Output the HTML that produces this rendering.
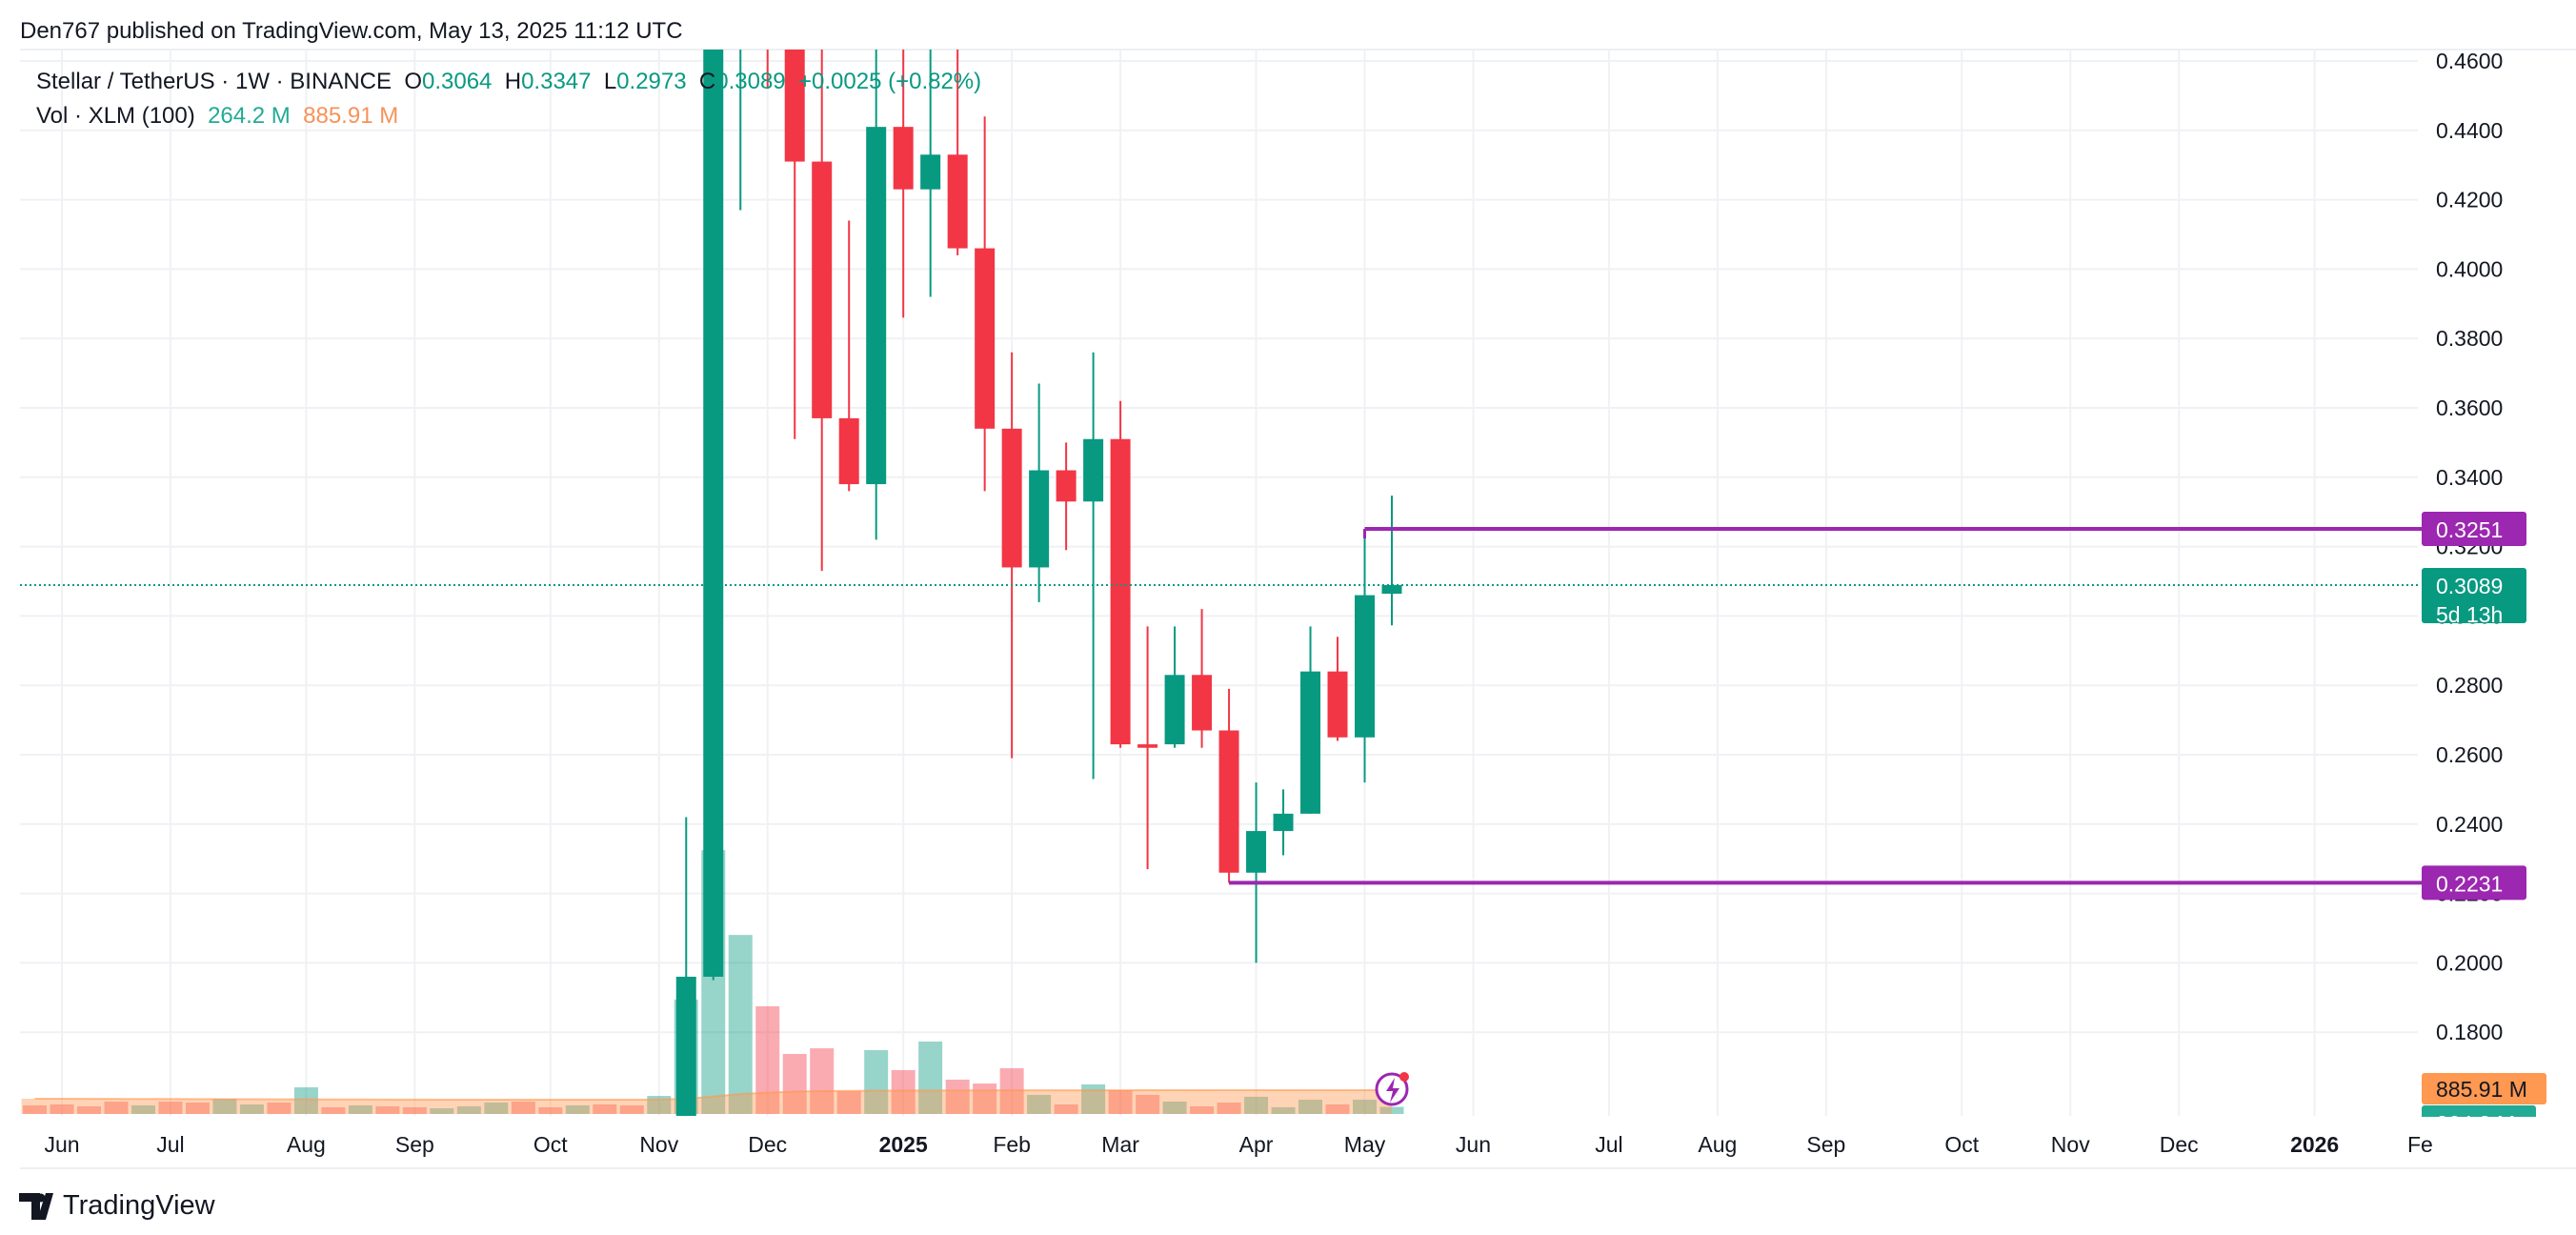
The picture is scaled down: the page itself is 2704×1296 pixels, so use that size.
<!DOCTYPE html>
<html><head><meta charset="utf-8">
<style>
html,body{margin:0;padding:0;background:#fff;width:2704px;height:1296px;overflow:hidden;}
svg{display:block;font-family:"Liberation Sans",sans-serif;}
text{white-space:pre;}
</style></head>
<body>
<svg id="chart" width="2704" height="1296" viewBox="0 0 2704 1296" xmlns="http://www.w3.org/2000/svg">
<defs>
<clipPath id="pane"><rect x="21" y="52" width="2517" height="1119"/></clipPath>
</defs>
<rect x="0" y="0" width="2704" height="1296" fill="#ffffff"/>
<text x="21" y="40" font-size="24" fill="#131722">Den767 published on TradingView.com, May 13, 2025 11:12 UTC</text>
<line x1="21" y1="52" x2="2704" y2="52" stroke="#eceff3" stroke-width="2"/>
<g id="grid"></g>
<g id="vol" clip-path="url(#pane)"></g>
<g id="candles" clip-path="url(#pane)"></g>
<g id="overlay"></g>
<g id="yaxis"></g>
<g id="xaxis"></g>
<g font-size="24">
<text x="38" y="93" xml:space="preserve"><tspan fill="#131722">Stellar / TetherUS · 1W · BINANCE  O</tspan><tspan fill="#089981">0.3064</tspan><tspan fill="#131722">  H</tspan><tspan fill="#089981">0.3347</tspan><tspan fill="#131722">  L</tspan><tspan fill="#089981">0.2973</tspan><tspan fill="#131722">  C</tspan><tspan fill="#089981">0.3089  +0.0025 (+0.82%)</tspan></text>
<text x="38" y="129" xml:space="preserve"><tspan fill="#131722">Vol · XLM (100)  </tspan><tspan fill="#22ab94">264.2 M  </tspan><tspan fill="#f7925a">885.91 M</tspan></text>
</g>
<line x1="21" y1="1226" x2="2704" y2="1226" stroke="#eceff3" stroke-width="2"/>
<g>
<path d="M20 1252h22v28h-9v-19h-13z M48 1252h8l-8 28h-9z" fill="#131722"/>
<circle cx="43" cy="1257" r="4.5" fill="#131722"/>
<text x="66" y="1274" font-size="29" fill="#131722">TradingView</text>
</g>
</svg>
<script>
// ---- data ----
const startDate = "2024-05-27"; // week of index 0
const opens  = [0.110,0.105,0.100,0.090,0.085,0.093,0.088,0.087,0.096,0.100,0.090,0.098,0.092,0.097,0.095,0.093,0.094,0.096,0.099,0.098,0.095,0.098,0.097,0.093,0.085,0.196,0.490,0.560,0.470,0.431,0.357,0.338,0.441,0.423,0.433,0.406,0.354,0.314,0.342,0.333,0.351,0.263,0.263,0.283,0.267,0.226,0.238,0.243,0.284,0.265,0.3064];
const highs  = [0.115,0.110,0.105,0.095,0.098,0.096,0.100,0.100,0.100,0.104,0.101,0.100,0.099,0.099,0.097,0.096,0.098,0.101,0.101,0.100,0.099,0.100,0.099,0.100,0.242,0.520,0.600,0.600,0.500,0.470,0.414,0.470,0.470,0.470,0.470,0.444,0.376,0.367,0.350,0.376,0.362,0.297,0.297,0.302,0.279,0.252,0.250,0.297,0.294,0.3251,0.3347];
const lows   = [0.100,0.098,0.088,0.083,0.083,0.083,0.084,0.085,0.083,0.088,0.087,0.088,0.089,0.090,0.090,0.090,0.091,0.093,0.093,0.092,0.092,0.093,0.091,0.090,0.080,0.195,0.417,0.452,0.351,0.313,0.336,0.322,0.386,0.392,0.404,0.336,0.259,0.304,0.319,0.253,0.262,0.227,0.262,0.262,0.2231,0.200,0.231,0.243,0.264,0.252,0.2973];
const closes = [0.105,0.100,0.090,0.085,0.093,0.088,0.087,0.096,0.100,0.090,0.098,0.092,0.097,0.095,0.093,0.094,0.096,0.099,0.098,0.095,0.098,0.097,0.093,0.095,0.196,0.500,0.550,0.480,0.431,0.357,0.338,0.441,0.423,0.433,0.406,0.354,0.314,0.342,0.333,0.351,0.263,0.262,0.283,0.267,0.226,0.238,0.243,0.284,0.265,0.306,0.3089];
const volumes = [320,355,285,460,320,460,425,565,355,425,990,250,320,285,250,212,285,425,460,250,320,355,320,670,4250,9800,6650,4000,2230,2440,850,2370,1630,2690,1275,1130,1700,710,355,1100,885,710,460,285,425,640,250,530,355,530,264];
const volMA = [566,566,563,560,558,556,553,550,548,545,543,540,538,536,534,532,530,530,530,530,530,530,530,535,560,650,740,790,830,850,860,865,870,872,875,877,880,880,881,882,882,883,883,884,884,884,885,885,885,886,885.91];
const priceTicks = [0.46,0.44,0.42,0.40,0.38,0.36,0.34,0.32,0.30,0.28,0.26,0.24,0.22,0.20,0.18];
const monthLabels = ["Jun","Jul","Aug","Sep","Oct","Nov","Dec","2025","Feb","Mar","Apr","May","Jun","Jul","Aug","Sep","Oct","Nov","Dec","2026","Fe"];
const monthDates = ["2024-06-03","2024-07-01","2024-08-05","2024-09-02","2024-10-07","2024-11-04","2024-12-02","2025-01-06","2025-02-03","2025-03-03","2025-04-07","2025-05-05","2025-06-02","2025-07-07","2025-08-04","2025-09-01","2025-10-06","2025-11-03","2025-12-01","2026-01-05","2026-02-02"];
const levelHigh = 0.3251, levelHighIdx = 49;
const levelLow = 0.2231, levelLowIdx = 44;
const lastPrice = 0.3089;

// ---- scales ----
const NS = "http://www.w3.org/2000/svg";
const X0 = 36.5, STEP = 28.49;
function xIdx(i){ return X0 + i*STEP; }
function xDate(d){ const t=(new Date(d+"T00:00:00Z")-new Date(startDate+"T00:00:00Z"))/(7*864e5); return xIdx(t); }
function yP(p){ return 64 + (0.46-p)*3640; }
const VBASE = 1169, VPX = 35.4;
function yV(v){ return VBASE - v/VPX; }
function mk(tag, attrs, parent){ const e=document.createElementNS(NS,tag); for(const k in attrs) e.setAttribute(k,attrs[k]); parent.appendChild(e); return e; }
const GREEN="#089981", RED="#f23645";

// grid
const grid=document.getElementById("grid");
priceTicks.forEach(p=>{
  const l=mk("line",{x1:21,x2:2538,y1:yP(p),y2:yP(p),stroke:"#f0f1f4","stroke-width":2},grid);
  
  
});
monthDates.forEach(d=>{
  const x=xDate(d); if(x>2538) return;
  const l=mk("line",{x1:x,x2:x,y1:52,y2:1171,stroke:"#f0f1f4","stroke-width":2},grid);
  
  
});

// volume
const vg=document.getElementById("vol");
volumes.forEach((v,i)=>{
  const up=closes[i]>=opens[i];
  const r=mk("rect",{x:xIdx(i)-12.5,y:yV(v),width:25,height:v/VPX,fill:up?"rgba(8,153,129,0.42)":"rgba(242,54,69,0.42)"},vg);
  
  
});
let maPts=volMA.map((v,i)=>xIdx(i)+","+yV(v));
const maArea=mk("polygon",{points:xIdx(0)-14+","+VBASE+" "+(xIdx(0)-14)+","+yV(volMA[0])+" "+maPts.join(" ")+" "+xIdx(volMA.length-1)+","+VBASE,fill:"rgba(255,152,80,0.42)"},vg);


const maLine=mk("polyline",{points:maPts.join(" "),fill:"none",stroke:"rgba(255,152,80,0.6)","stroke-width":2},vg);



// candles
const cg=document.getElementById("candles");
opens.forEach((o,i)=>{
  const c=closes[i], up=c>=o, col=up?GREEN:RED, x=xIdx(i);
  const w=mk("line",{x1:x,x2:x,y1:yP(highs[i]),y2:yP(lows[i]),stroke:col,"stroke-width":2},cg);
  
  
  const top=yP(Math.max(o,c)), h=Math.max(3,yP(Math.min(o,c))-top);
  const b=mk("rect",{x:x-10.5,y:top,width:21,height:h,fill:col},cg);
  
  
});

// overlay lines
const ov=document.getElementById("overlay");
const lp=mk("line",{x1:21,x2:2538,y1:yP(lastPrice),y2:yP(lastPrice),stroke:GREEN,"stroke-width":2,"stroke-dasharray":"2 3"},ov);


const hl=mk("line",{x1:xIdx(levelHighIdx),x2:2542,y1:yP(levelHigh),y2:yP(levelHigh),stroke:"#9c27b0","stroke-width":4},ov);


const hv=mk("line",{x1:xIdx(levelHighIdx),x2:xIdx(levelHighIdx),y1:yP(levelHigh),y2:yP(levelHigh)+10,stroke:"#9c27b0","stroke-width":3},ov);


const ll=mk("line",{x1:xIdx(levelLowIdx),x2:2542,y1:yP(levelLow),y2:yP(levelLow),stroke:"#9c27b0","stroke-width":4},ov);


// lightning icon
const ic=mk("circle",{cx:xIdx(50),cy:1143,r:16,fill:"#fff",stroke:"#9c27b0","stroke-width":3},ov);


const bolt=mk("path",{d:`M${xIdx(50)+3} ${1131} l-9 14 h7 l-3 12 l10 -15 h-7 z`,fill:"#9c27b0"},ov);


const dot=mk("circle",{cx:xIdx(50)+13,cy:1130,r:5,fill:"#f23645"},ov);



// y axis labels
const ya=document.getElementById("yaxis");
priceTicks.forEach(p=>{
  const t=mk("text",{x:2557,y:yP(p)+8,"font-size":23,fill:"#131722"},ya);
  t.textContent=p.toFixed(4);
  
  
});
function tag(y,h,fill,lines,name,w){
  const r=mk("rect",{x:2542,y:y,width:w||110,height:h,rx:3,fill:fill},ya);
  
  
  lines.forEach((s,k)=>{
    const t=mk("text",{x:2557,y:y+27+k*30,"font-size":23,fill:"#fff"},ya);
    t.textContent=s;
    
    
  });
}
tag(yP(levelHigh)-18,36,"#9c27b0",[levelHigh.toFixed(4)],"resistance-price-tag");
tag(yP(lastPrice)-18,58,GREEN,[lastPrice.toFixed(4),"5d 13h"],"last-price-tag");
tag(yP(levelLow)-18,36,"#9c27b0",[levelLow.toFixed(4)],"support-price-tag");
tag(1160,33,"#22ab94",["264.2 M"],"volume-tag",120);
tag(1126,33,"#ff9850",[],"volume-ma-tag",131);
const vt=mk("text",{x:2557,y:1151,"font-size":23,fill:"#131722"},ya);
vt.textContent=volMA[volMA.length-1].toFixed(2)+" M";


const cover=mk("rect",{x:2538,y:1172,width:166,height:53,fill:"#fff"},ya);



// x axis labels
const xa=document.getElementById("xaxis");
monthLabels.forEach((m,k)=>{
  const x=xDate(monthDates[k]);
  const t=mk("text",{x:x,y:1209,"font-size":23,"text-anchor":"middle",fill:"#131722","font-weight":/^\d{4}$/.test(m)?"bold":"normal"},xa);
  if(m==="Fe"){ t.setAttribute("text-anchor","start"); t.setAttribute("x",2527); }
  t.textContent=m;
  
  
});
</script>
</body></html>
